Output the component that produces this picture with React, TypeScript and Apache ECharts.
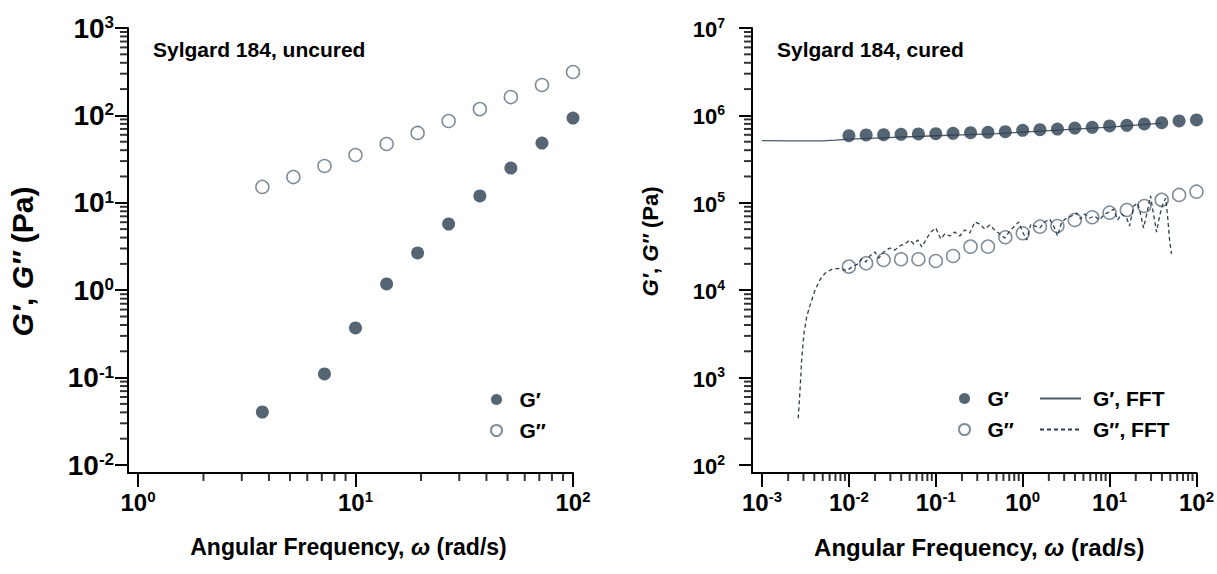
import React, { useEffect, useRef } from 'react';
import * as echarts from 'echarts';

// ---------- data ----------
const freqUncured = [3.73, 5.18, 7.2, 10, 13.9, 19.3, 26.8, 37.3, 51.8, 72.0, 100];
const gppUncured = [15.2, 19.7, 26.4, 35.2, 47.1, 63.0, 86.3, 118, 162, 223, 314];
const freqUncuredGp = [3.73, 7.2, 10, 13.9, 19.3, 26.8, 37.3, 51.8, 72.0, 100];
const gpUncured = [0.0404, 0.11, 0.37, 1.18, 2.67, 5.72, 12.0, 25.0, 48.3, 93.3];

const freqCured = [0.01, 0.0158, 0.0251, 0.0398, 0.0631, 0.1, 0.158, 0.251, 0.398, 0.631, 1, 1.58, 2.51, 3.98, 6.31, 10, 15.8, 25.1, 39.8, 63.1, 100];
const gpCured = [5.86e5, 5.97e5, 6.01e5, 6.08e5, 6.13e5, 6.18e5, 6.24e5, 6.34e5, 6.41e5, 6.52e5, 6.76e5, 6.86e5, 6.98e5, 7.17e5, 7.31e5, 7.57e5, 7.71e5, 7.98e5, 8.25e5, 8.63e5, 8.86e5];
const gppCured = [1.86e4, 2.03e4, 2.22e4, 2.26e4, 2.26e4, 2.16e4, 2.46e4, 3.15e4, 3.15e4, 4.03e4, 4.48e4, 5.33e4, 5.43e4, 6.36e4, 6.83e4, 7.71e4, 8.27e4, 9.19e4, 1.08e5, 1.23e5, 1.34e5];

const fftGpFreq = [0.001, 0.002, 0.003, 0.005, 0.007, 0.01, 0.02, 0.05, 0.1, 0.2, 0.5, 1, 2, 5, 10, 20, 40];
const fftGpVal = [5.14e5, 5.12e5, 5.1e5, 5.12e5, 5.2e5, 5.35e5, 5.5e5, 5.7e5, 5.85e5, 6.0e5, 6.2e5, 6.45e5, 6.7e5, 7.05e5, 7.35e5, 7.75e5, 8.15e5];

const fftGppFreq = [0.00261, 0.00274, 0.00286, 0.00304, 0.00327, 0.00363, 0.00407, 0.00464, 0.0053, 0.00632, 0.00788, 0.00942,
  0.0108, 0.0127, 0.0141, 0.0157, 0.0174, 0.0199, 0.0221, 0.0252, 0.0296, 0.0338, 0.0385, 0.0441, 0.0502, 0.0558, 0.0621, 0.069, 0.0789, 0.0877,
  0.1, 0.114, 0.127, 0.145, 0.165, 0.189, 0.215, 0.246, 0.281, 0.321, 0.366, 0.418, 0.477, 0.545, 0.621, 0.71, 0.809, 0.9,
  1.0, 1.11, 1.24, 1.37, 1.57, 1.79, 2.04, 2.27, 2.52, 2.81, 3.21, 3.66, 4.18, 4.64, 5.16, 5.89, 6.73, 7.67, 8.77,
  10, 11.1, 12.4, 13.7, 15.7, 17.0, 18.9, 21.0, 22.7, 24.6, 27.4, 29.6, 32.1, 34.7, 37.6, 40.6, 44.1, 46.4, 49.0, 51.6];
const fftGppVal = [342, 721, 1590, 3210, 4980, 7080, 1.0e4, 1.31e4, 1.56e4, 1.73e4, 1.78e4, 1.67e4,
  1.84e4, 2.0e4, 2.28e4, 2.1e4, 2.46e4, 2.74e4, 2.33e4, 2.74e4, 3.04e4, 2.88e4, 3.21e4, 3.38e4, 3.75e4, 3.38e4, 3.75e4, 3.12e4, 3.95e4, 4.63e4,
  5.15e4, 3.85e4, 4.4e4, 4.17e4, 4.63e4, 4.17e4, 4.89e4, 4.51e4, 6.03e4, 5.71e4, 5.01e4, 5.57e4, 4.89e4, 4.4e4, 3.95e4, 4.75e4, 5.43e4, 6.03e4,
  4.63e4, 3.75e4, 5.71e4, 5.43e4, 5.15e4, 6.03e4, 6.53e4, 5.43e4, 4.17e4, 6.03e4, 6.7e4, 7.06e4, 7.64e4, 6.53e4, 7.45e4, 6.7e4, 7.06e4, 6.36e4, 7.45e4,
  7.85e4, 8.49e4, 6.36e4, 7.45e4, 6.7e4, 5.43e4, 9.19e4, 9.95e4, 7.45e4, 5.15e4, 8.27e4, 1.2e5, 7.25e4, 4.63e4, 7.06e4, 9.44e4, 1.13e5, 7.25e4, 3.75e4, 2.6e4];

const titles = ['Sylgard 184, uncured', 'Sylgard 184, cured'];

// ---------- style ----------
const FONT = '"Liberation Sans", Arial, sans-serif';
const NAVY = '#2c3e50';
const OPEN = '#5f6f80';

const LEFT_GRID = { left: 138, top: 28, width: 435, height: 437 };
const RIGHT_GRID = { left: 762, top: 28, width: 435, height: 437 };
const Y_OFF = 10;
const X_OFF = 8;

function zip(a: number[], b: number[]) {
  return a.map((v, i) => [v, b[i]]);
}

function minorTicks(minExp: number, maxExp: number) {
  const out: number[] = [];
  for (let e = minExp; e < maxExp; e++) for (let k = 2; k <= 9; k++) out.push(Number((k * Math.pow(10, e)).toPrecision(3)));
  return out;
}

function supLabel(v: number) {
  const e = Math.round(Math.log10(v));
  return `{b|10}{s|${e}}`;
}

function tickRich(big: number, small: number) {
  return {
    b: { fontSize: big, fontWeight: 'bold', fontFamily: FONT, color: '#000', lineHeight: big, verticalAlign: 'bottom' },
    s: { fontSize: small, fontWeight: 'bold', fontFamily: FONT, color: '#000', lineHeight: 25, padding: [0, 0, 10, 0], verticalAlign: 'top' },
  };
}

function nameRich(size: number) {
  return {
    n: { fontSize: size, fontWeight: 'bold', fontFamily: FONT, color: '#000' },
    i: { fontSize: size, fontWeight: 'bold', fontStyle: 'italic', fontFamily: FONT, color: '#000' },
  };
}

const axisLineStyle = { color: '#000', width: 2 };

function xAxis(grid: number, min: number, max: number, nameSize: number, pad: number[]) {
  return {
    gridIndex: grid,
    type: 'log',
    logBase: 10,
    min,
    max,
    position: 'bottom',
    offset: X_OFF,
    axisLine: { lineStyle: axisLineStyle },
    axisTick: { length: 14, lineStyle: axisLineStyle },
    axisLabel: { formatter: supLabel, rich: tickRich(24, 15), margin: 16 },
    splitLine: { show: false },
    name: '{n|Angular Frequency, }{i|ω}{n| (rad/s)}',
    nameLocation: 'middle',
    nameGap: 62,
    nameTextStyle: { rich: nameRich(nameSize), padding: pad },
  };
}

function yAxis(grid: number, min: number, max: number, margin: number, pad: number[], big: number, small: number, nameSize: number) {
  return {
    gridIndex: grid,
    type: 'log',
    logBase: 10,
    min,
    max,
    position: 'left',
    offset: Y_OFF,
    axisLine: { lineStyle: axisLineStyle },
    axisTick: { length: 13, lineStyle: axisLineStyle },
    axisLabel: { formatter: supLabel, rich: tickRich(big, small), margin },
    splitLine: { show: false },
    name: '{i|G′}{n|, }{i|G″}{n| (Pa)}',
    nameLocation: 'middle',
    nameGap: 91,
    nameTextStyle: { rich: nameRich(nameSize), padding: pad },
  };
}

// minor ticks drawn as small bars placed through the axes' own log scales
function tickScatter(idx: number, dir: 'x' | 'y', vals: number[], anchor: number) {
  return {
    type: 'scatter',
    xAxisIndex: idx,
    yAxisIndex: idx,
    silent: true,
    clip: false,
    symbol: 'rect',
    symbolSize: dir === 'x' ? [2, 8] : [8, 2],
    symbolOffset: dir === 'x' ? [0, X_OFF + 4] : [-(Y_OFF + 4), 0],
    itemStyle: { color: '#000' },
    data: vals.map((v) => (dir === 'x' ? [v, anchor] : [anchor, v])),
    z: 2,
  };
}

function corner(g: { left: number; top: number; height: number }) {
  const ax = g.left - Y_OFF;
  const ay = g.top + g.height + X_OFF;
  return [
    { type: 'line', shape: { x1: ax, y1: g.top + g.height - 1, x2: ax, y2: ay + 1 }, style: { stroke: '#000', lineWidth: 2 } },
    { type: 'line', shape: { x1: ax - 1, y1: ay, x2: g.left + 1, y2: ay }, style: { stroke: '#000', lineWidth: 2 } },
  ];
}

const legendText = { fontSize: 21, fontWeight: 'bold', fontFamily: FONT, color: '#000', lineHeight: 20 };

const option: any = {
  animation: false,
  backgroundColor: '#fff',
  title: [
    { text: titles[0], left: 148, top: 34, textStyle: { fontSize: 21, fontWeight: 'bold', fontFamily: FONT, color: '#000' } },
    { text: titles[1], left: 772, top: 34, textStyle: { fontSize: 21, fontWeight: 'bold', fontFamily: FONT, color: '#000' } },
  ],
  legend: [
    { data: ['G′', 'G″'], orient: 'vertical', left: 485, top: 384, itemWidth: 36, itemHeight: 11, itemGap: 10, textStyle: legendText, selectedMode: false },
    { data: ['G′ ', 'G″ '], orient: 'vertical', left: 953, top: 383, itemWidth: 36, itemHeight: 11, itemGap: 10, textStyle: legendText, selectedMode: false, formatter: (n: string) => n.trim() },
    {
      data: ['G′, FFT', 'G″, FFT'], orient: 'vertical', left: 1034, top: 383, itemWidth: 41, itemHeight: 11, itemGap: 10,
      textStyle: { ...legendText, padding: [0, 0, 0, 7] }, itemStyle: { opacity: 0 }, selectedMode: false,
    },
  ],
  grid: [
    { ...LEFT_GRID, containLabel: false },
    { ...RIGHT_GRID, containLabel: false },
  ],
  xAxis: [xAxis(0, 1, 100, 23, [0, 14, 0, 0]), xAxis(1, 0.001, 100, 24, [0, 0, 0, 0])],
  yAxis: [
    yAxis(0, 0.01, 1000, 14, [0, 30, 0, 0], 28, 17, 30),
    yAxis(1, 100, 1e7, 27, [0, 0, 0, 10], 22, 14, 22),
  ],
  graphic: [...corner(LEFT_GRID), ...corner(RIGHT_GRID)],
  series: [
    tickScatter(0, 'x', minorTicks(0, 2), 0.01),
    tickScatter(0, 'y', minorTicks(-2, 3), 1),
    tickScatter(1, 'x', minorTicks(-3, 2), 100),
    tickScatter(1, 'y', minorTicks(2, 7), 0.001),
    {
      name: 'G″', type: 'scatter', xAxisIndex: 0, yAxisIndex: 0, symbol: 'circle', symbolSize: 13,
      itemStyle: { color: '#fff', borderColor: OPEN, borderWidth: 1.5 }, data: zip(freqUncured, gppUncured), z: 3,
    },
    {
      name: 'G′', type: 'scatter', xAxisIndex: 0, yAxisIndex: 0, symbol: 'circle', symbolSize: 13,
      itemStyle: { color: NAVY }, data: zip(freqUncuredGp, gpUncured), z: 4,
    },
    {
      name: 'G″ ', type: 'scatter', xAxisIndex: 1, yAxisIndex: 1, symbol: 'circle', symbolSize: 13,
      itemStyle: { color: '#fff', borderColor: OPEN, borderWidth: 1.5 }, data: zip(freqCured, gppCured), z: 3,
    },
    {
      name: 'G″, FFT', type: 'line', xAxisIndex: 1, yAxisIndex: 1, showSymbol: false, symbol: 'none',
      itemStyle: { color: NAVY }, lineStyle: { color: NAVY, width: 1.3, type: [4, 3] }, data: zip(fftGppFreq, fftGppVal), z: 4,
    },
    {
      name: 'G′, FFT', type: 'line', xAxisIndex: 1, yAxisIndex: 1, showSymbol: false, symbol: 'none',
      itemStyle: { color: '#4a5a6b' }, lineStyle: { color: '#4a5a6b', width: 1.3 }, data: zip(fftGpFreq, fftGpVal), z: 4,
    },
    {
      name: 'G′ ', type: 'scatter', xAxisIndex: 1, yAxisIndex: 1, symbol: 'circle', symbolSize: 13,
      itemStyle: { color: NAVY }, data: zip(freqCured, gpCured), z: 5,
    },
  ],
};

export default function App() {
  const ref = useRef<HTMLDivElement>(null);
  useEffect(() => {
    const chart = echarts.init(ref.current!, null, { renderer: 'svg' });
    chart.setOption(option);
    return () => chart.dispose();
  }, []);
  return <div ref={ref} style={{ position: 'fixed', left: 0, top: 0, width: 1217, height: 574, background: '#fff' }} />;
}
